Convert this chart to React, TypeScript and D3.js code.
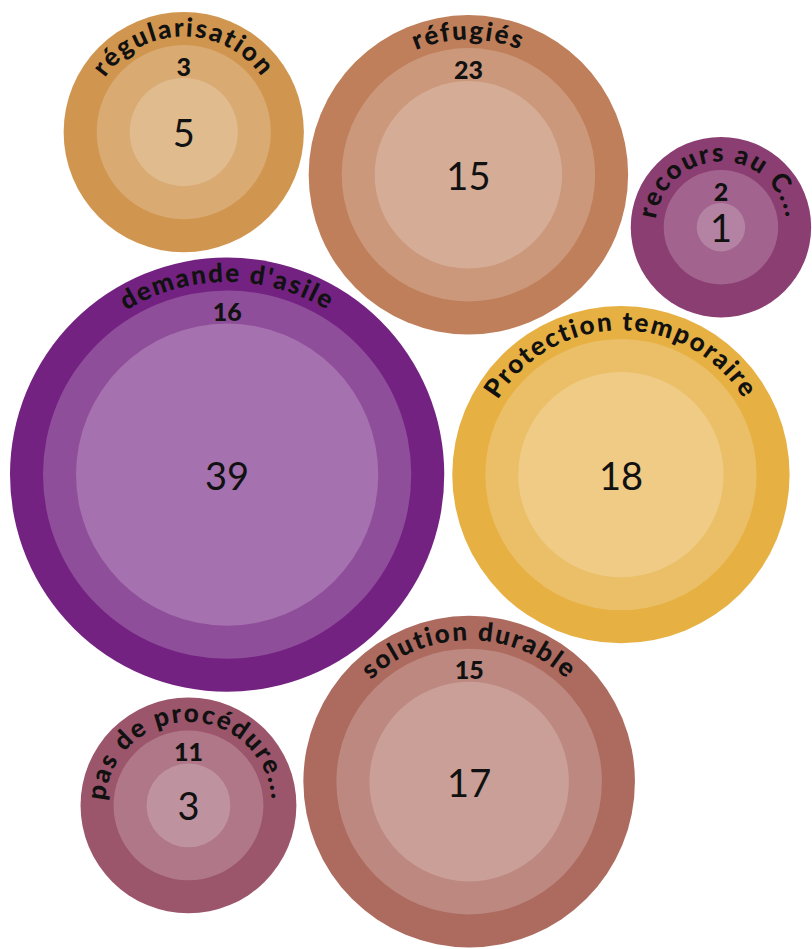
import { useEffect, useRef } from 'react';
import * as d3 from 'd3';

const names = [
  "demande d'asile",
  'Protection temporaire',
  'solution durable',
  'réfugiés',
  'régularisation',
  'pas de procédure engagée',
  'recours au CNDA',
];
const groupCounts: (number | null)[] = [16, null, 15, 23, 3, 11, 2];
const personCounts = [39, 18, 17, 15, 5, 3, 1];
const colors = ['#732281', '#e6b042', '#ad6b60', '#bf7f5a', '#d0954f', '#9c566b', '#8b3e72'];

const W = 812;
const H = 949;
const unit = 24.2; // px per sqrt(value)
const ring = 33;
const gap = 8;
const font = 'Lato, "Noto Sans", sans-serif';

type Node = { name: string; color?: string; label?: number | null; value?: number; children?: Node[] };

export default function App() {
  const ref = useRef<SVGSVGElement | null>(null);

  useEffect(() => {
    const el = ref.current;
    if (!el) return;
    const svg = d3.select(el);
    svg.selectAll('*').remove();

    const data: Node = {
      name: 'root',
      children: names.map((n, i) => ({
        name: n,
        color: colors[i],
        children: [{ name: 'groupe', label: groupCounts[i], children: [{ name: 'personnes', value: personCounts[i] }] }],
      })),
    };

    const root = d3
      .hierarchy<Node>(data)
      .sum((d) => d.value ?? 0)
      .sort((a, b) => (b.value ?? 0) - (a.value ?? 0));

    const packed = d3
      .pack<Node>()
      .radius((d) => Math.sqrt(d.value ?? 0) * unit)
      .padding((d) => (d.depth === 0 ? gap : ring))(root);

    const tops = packed.children ?? [];
    const minX = d3.min(tops, (d) => d.x - d.r) ?? 0;
    const minY = d3.min(tops, (d) => d.y - d.r) ?? 0;

    const g = svg.append('g').attr('transform', `translate(${10 - minX},${12 - minY})`);

    tops.forEach((top, i) => {
      const mid = top.children![0];
      const leaf = mid.children![0];
      const grp = g.append('g');

      grp.append('circle').attr('cx', top.x).attr('cy', top.y).attr('r', top.r).attr('fill', top.data.color!);
      grp.append('circle').attr('cx', mid.x).attr('cy', mid.y).attr('r', mid.r).attr('fill', '#fff').attr('fill-opacity', 0.2);
      grp.append('circle').attr('cx', leaf.x).attr('cy', leaf.y).attr('r', leaf.r).attr('fill', '#fff').attr('fill-opacity', 0.2);

      // curved category label
      const rl = top.r - ring / 2 - 8;
      const id = `arc-${i}`;
      grp
        .append('path')
        .attr('id', id)
        .attr('fill', 'none')
        .attr(
          'd',
          `M${top.x - rl},${top.y} A${rl},${rl} 0 1 1 ${top.x + rl},${top.y} A${rl},${rl} 0 1 1 ${top.x - rl},${top.y}`
        );
      const text = grp
        .append('text')
        .attr('font-family', font)
        .attr('font-weight', 900)
        .attr('font-size', 26)
        .attr('letter-spacing', 1.8)
        .attr('fill', '#111');
      const tp = text
        .append('textPath')
        .attr('href', `#${id}`)
        .attr('startOffset', '25%')
        .attr('text-anchor', 'middle')
        .text(top.data.name);
      const maxLen = Math.PI * rl;
      let label = top.data.name;
      while (label.length > 1 && (text.node() as SVGTextElement).getComputedTextLength() > maxLen) {
        label = label.slice(0, -1);
        tp.text(label.trimEnd() + '...');
      }

      if (mid.data.label != null) {
        grp
          .append('text')
          .attr('x', mid.x)
          .attr('y', mid.y - mid.r + ring / 2 + 4)
          .attr('text-anchor', 'middle')
          .attr('dominant-baseline', 'central')
          .attr('font-family', font)
          .attr('font-weight', 900)
          .attr('font-size', 25)
          .attr('fill', '#111')
          .text(mid.data.label);
      }

      grp
        .append('text')
        .attr('x', leaf.x)
        .attr('y', leaf.y)
        .attr('text-anchor', 'middle')
        .attr('dominant-baseline', 'central')
        .attr('font-family', font)
        .attr('font-size', 38)
        .attr('fill', '#111')
        .text(leaf.data.value ?? 0);
    });
  }, []);

  return (
    <svg
      ref={ref}
      width={W}
      height={H}
      style={{ position: 'absolute', left: 0, top: 0, display: 'block' }}
    />
  );
}
